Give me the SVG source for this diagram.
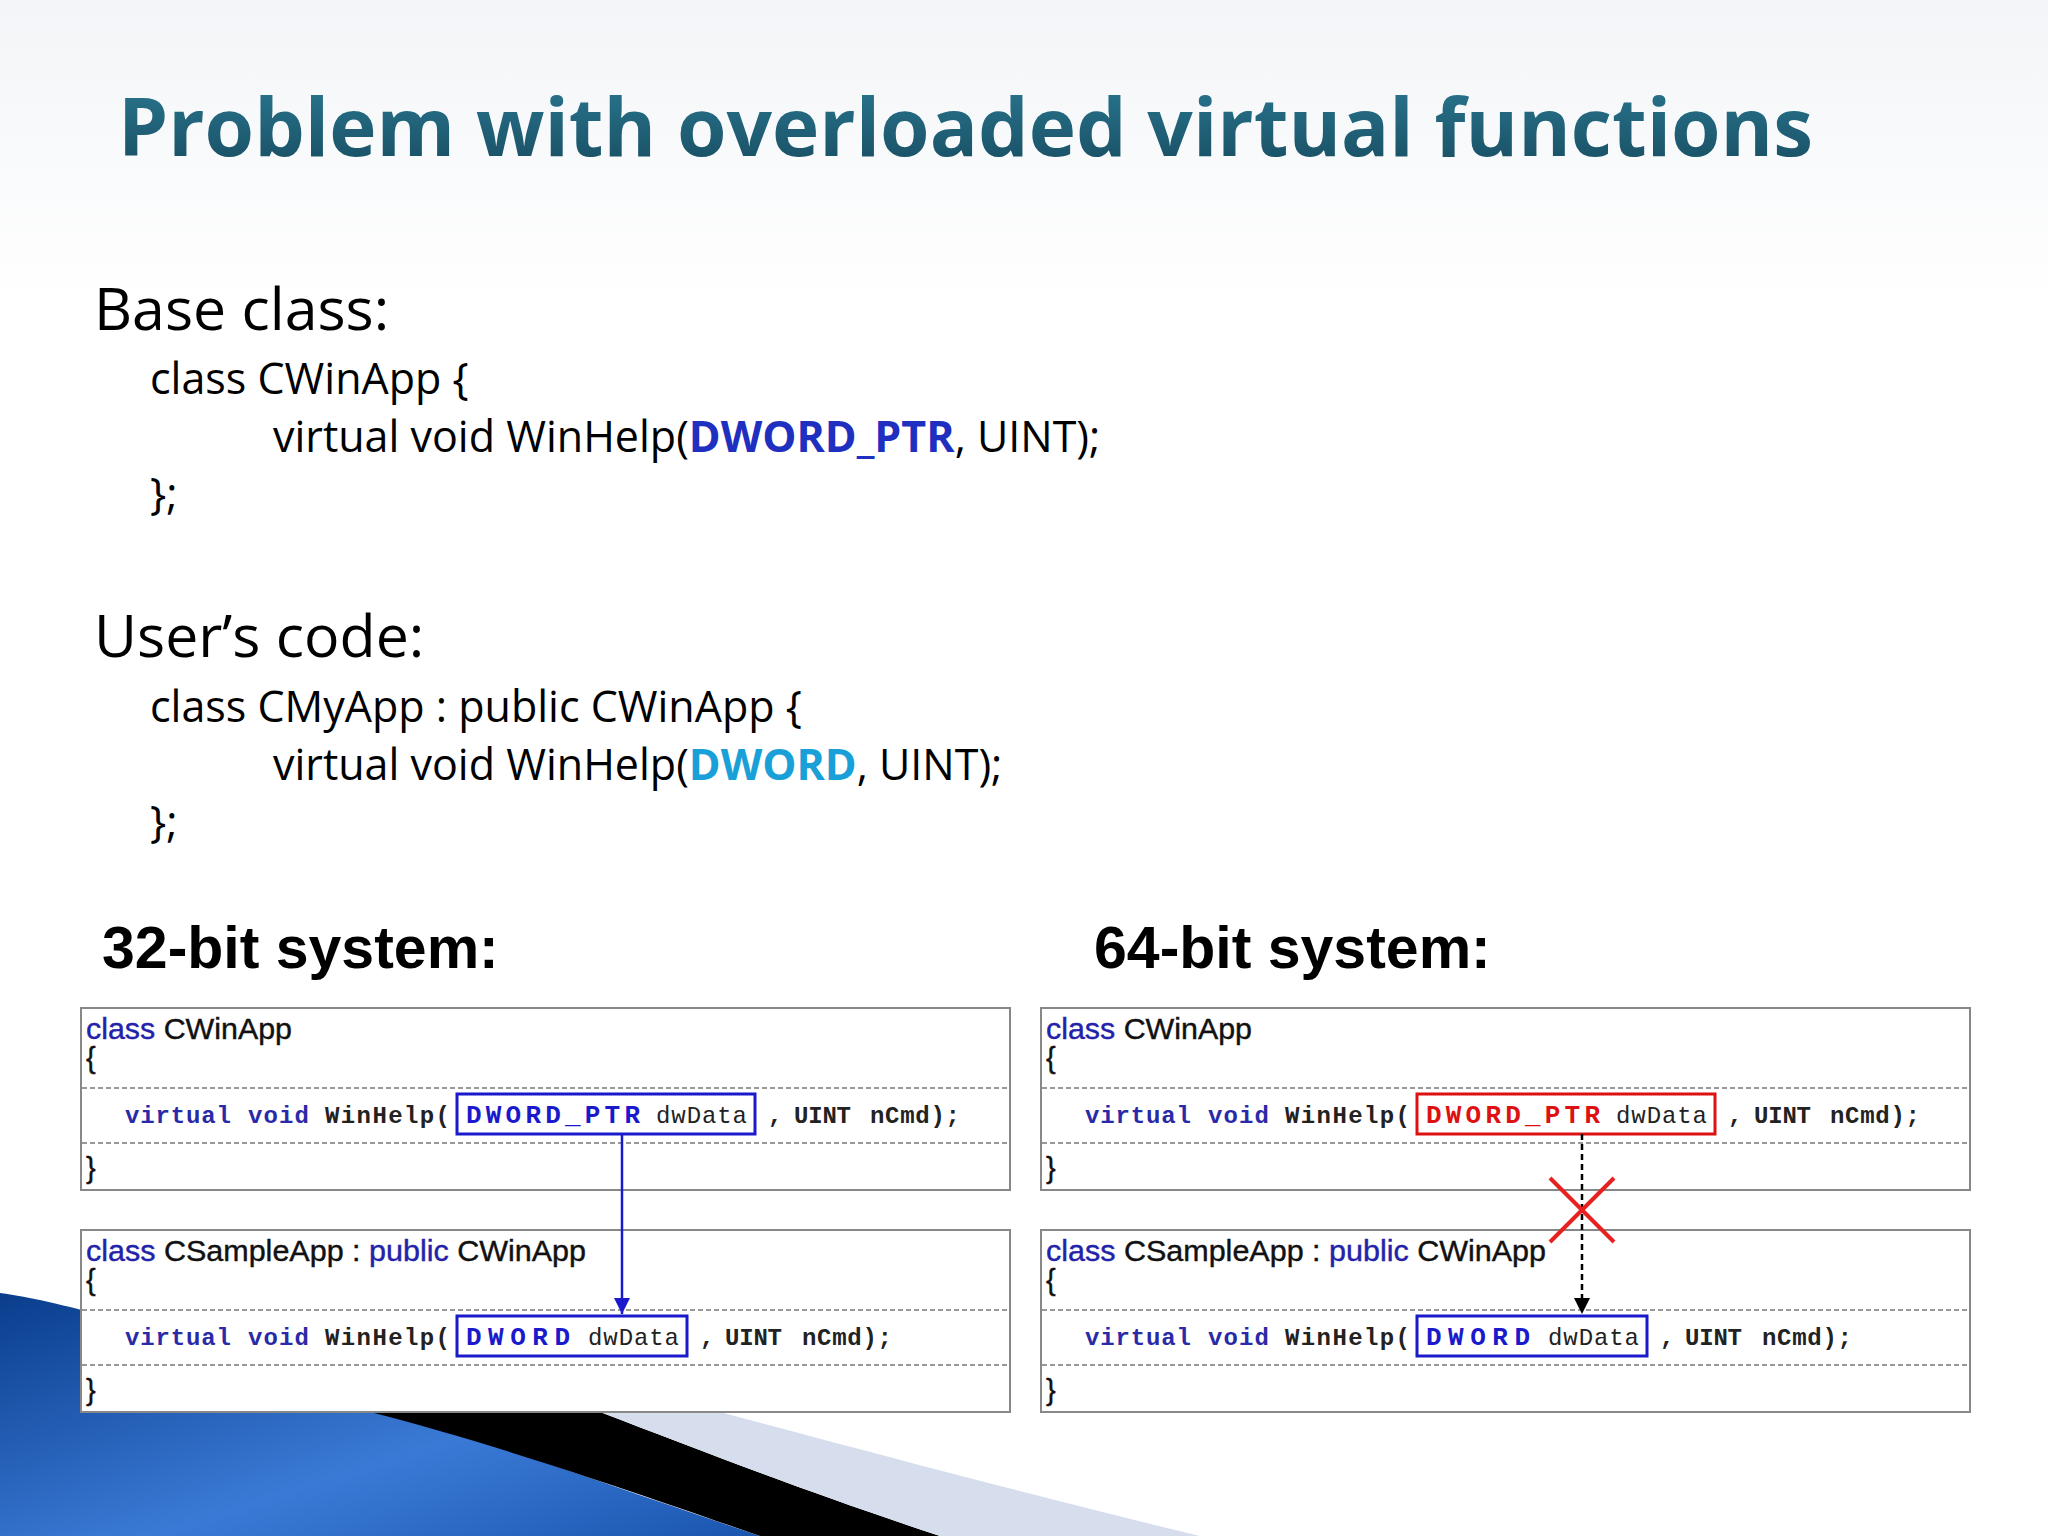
<svg xmlns="http://www.w3.org/2000/svg" width="2048" height="1536" viewBox="0 0 2048 1536">
<defs>
<linearGradient id="bg" x1="0" y1="0" x2="0" y2="1"><stop offset="0" stop-color="#f3f5f8"/><stop offset="0.2" stop-color="#ffffff"/></linearGradient>
<linearGradient id="sw" x1="0" y1="0" x2="1" y2="1"><stop offset="0" stop-color="#0a3d8c"/><stop offset="0.6" stop-color="#3a7ad6"/><stop offset="1" stop-color="#1a56b0"/></linearGradient>
<linearGradient id="tt" x1="0" y1="0" x2="0" y2="1"><stop offset="0" stop-color="#2b7b94"/><stop offset="1" stop-color="#174a5e"/></linearGradient>
<marker id="ab" viewBox="0 0 10 10" refX="10" refY="5" markerWidth="22" markerHeight="16" markerUnits="userSpaceOnUse" orient="auto"><path d="M0,0L10,5L0,10z" fill="#1a1acc"/></marker>
<marker id="ak" viewBox="0 0 10 10" refX="10" refY="5" markerWidth="22" markerHeight="16" markerUnits="userSpaceOnUse" orient="auto"><path d="M0,0L10,5L0,10z" fill="#000"/></marker>
</defs>
<style>
.t{font-family:"Open Sans","Liberation Sans",sans-serif;fill:#000}
.h{font-size:59px}
.c{font-size:43px}
.b{font-family:"Liberation Sans",sans-serif;font-weight:bold;font-size:59px}
.box{fill:#fff;stroke:#888;stroke-width:2}
.dl{stroke:#777;stroke-width:1.5;stroke-dasharray:5 3}
.cl{font-family:"Liberation Sans",sans-serif;font-size:29px;fill:#111;stroke:#111;stroke-width:0.4}
.kw{fill:#2222aa;stroke:#2222aa}
.m{font-family:"Liberation Mono","Courier New",monospace;font-size:24px;font-weight:bold;fill:#222}
.mk{fill:#2a2aa8}
.mn{font-weight:normal}
.hb{fill:none;stroke-width:3}
</style>
<rect width="2048" height="1536" fill="url(#bg)"/>
<g id="swoosh">
<path d="M0,1293 C120,1310 300,1380 760,1536 L0,1536Z" fill="url(#sw)"/>
<path d="M370,1412 L600,1412 C700,1450 800,1490 940,1536 L760,1536 C600,1480 480,1440 370,1412Z" fill="#000"/>
<path d="M600,1412 L720,1412 C900,1460 1050,1500 1200,1536 L940,1536 C800,1490 700,1450 600,1412Z" fill="#d6deee"/>
</g>
<text x="118" y="156" font-family="'Open Sans','Liberation Sans',sans-serif" font-weight="bold" font-size="80" fill="url(#tt)" textLength="1695" lengthAdjust="spacingAndGlyphs">Problem with overloaded virtual functions</text>
<g id="base">
<text class="t h" x="94" y="330">Base class:</text>
<text class="t c" x="150" y="394">class CWinApp {</text>
<text class="t c" x="273" y="452">virtual void WinHelp(<tspan fill="#1f2fc0" font-weight="bold">DWORD_PTR</tspan>, UINT);</text>
<text class="t c" x="150" y="509">};</text>
</g>
<g id="user">
<text class="t h" x="94" y="657">User’s code:</text>
<text class="t c" x="150" y="722">class CMyApp : public CWinApp {</text>
<text class="t c" x="273" y="780">virtual void WinHelp(<tspan fill="#1aa0d8" font-weight="bold">DWORD</tspan>, UINT);</text>
<text class="t c" x="150" y="837">};</text>
</g>
<text class="b" x="102" y="968">32-bit system:</text>
<text class="b" x="1094" y="968">64-bit system:</text>
<g id="l1">
<rect class="box" x="81" y="1008" width="929" height="182"/>
<line class="dl" x1="82" y1="1088" x2="1009" y2="1088"/><line class="dl" x1="82" y1="1143" x2="1009" y2="1143"/>
<text class="cl" x="86" y="1039" textLength="206" lengthAdjust="spacingAndGlyphs"><tspan class="kw">class</tspan> CWinApp</text>
<text class="cl" x="86" y="1068">{</text>
<text class="m" y="1123"><tspan class="mk" x="125" textLength="106">virtual</tspan><tspan class="mk" x="248" textLength="61">void</tspan><tspan x="325" textLength="125">WinHelp(</tspan><tspan x="466" fill="#1a1acc" font-size="26" textLength="174">DWORD_PTR</tspan><tspan class="mn" x="656" textLength="91">dwData</tspan><tspan x="768">,</tspan><tspan x="794" textLength="57">UINT</tspan><tspan x="870" textLength="90">nCmd);</tspan></text>
<rect class="hb" stroke="#1a1acc" x="457" y="1094" width="298" height="40"/>
<text class="cl" x="86" y="1178">}</text>
</g>
<g id="l2">
<rect class="box" x="81" y="1230" width="929" height="182"/>
<line class="dl" x1="82" y1="1310" x2="1009" y2="1310"/><line class="dl" x1="82" y1="1365" x2="1009" y2="1365"/>
<text class="cl" x="86" y="1261" textLength="500" lengthAdjust="spacingAndGlyphs"><tspan class="kw">class</tspan> CSampleApp : <tspan class="kw">public</tspan> CWinApp</text>
<text class="cl" x="86" y="1290">{</text>
<text class="m" y="1345"><tspan class="mk" x="125" textLength="106">virtual</tspan><tspan class="mk" x="248" textLength="61">void</tspan><tspan x="325" textLength="125">WinHelp(</tspan><tspan x="466" fill="#1a1acc" font-size="26" textLength="104">DWORD</tspan><tspan class="mn" x="588" textLength="91">dwData</tspan><tspan x="700">,</tspan><tspan x="725" textLength="57">UINT</tspan><tspan x="802" textLength="90">nCmd);</tspan></text>
<rect class="hb" stroke="#1a1acc" x="457" y="1316" width="230" height="40"/>
<text class="cl" x="86" y="1400">}</text>
</g>
<g id="r1">
<rect class="box" x="1041" y="1008" width="929" height="182"/>
<line class="dl" x1="1042" y1="1088" x2="1969" y2="1088"/><line class="dl" x1="1042" y1="1143" x2="1969" y2="1143"/>
<text class="cl" x="1046" y="1039" textLength="206" lengthAdjust="spacingAndGlyphs"><tspan class="kw">class</tspan> CWinApp</text>
<text class="cl" x="1046" y="1068">{</text>
<text class="m" y="1123"><tspan class="mk" x="1085" textLength="106">virtual</tspan><tspan class="mk" x="1208" textLength="61">void</tspan><tspan x="1285" textLength="125">WinHelp(</tspan><tspan x="1426" fill="#dd1111" font-size="26" textLength="174">DWORD_PTR</tspan><tspan class="mn" x="1616" textLength="91">dwData</tspan><tspan x="1728">,</tspan><tspan x="1754" textLength="57">UINT</tspan><tspan x="1830" textLength="90">nCmd);</tspan></text>
<rect class="hb" stroke="#dd1111" x="1417" y="1094" width="298" height="40"/>
<text class="cl" x="1046" y="1178">}</text>
</g>
<g id="r2">
<rect class="box" x="1041" y="1230" width="929" height="182"/>
<line class="dl" x1="1042" y1="1310" x2="1969" y2="1310"/><line class="dl" x1="1042" y1="1365" x2="1969" y2="1365"/>
<text class="cl" x="1046" y="1261" textLength="500" lengthAdjust="spacingAndGlyphs"><tspan class="kw">class</tspan> CSampleApp : <tspan class="kw">public</tspan> CWinApp</text>
<text class="cl" x="1046" y="1290">{</text>
<text class="m" y="1345"><tspan class="mk" x="1085" textLength="106">virtual</tspan><tspan class="mk" x="1208" textLength="61">void</tspan><tspan x="1285" textLength="125">WinHelp(</tspan><tspan x="1426" fill="#1a1acc" font-size="26" textLength="104">DWORD</tspan><tspan class="mn" x="1548" textLength="91">dwData</tspan><tspan x="1660">,</tspan><tspan x="1685" textLength="57">UINT</tspan><tspan x="1762" textLength="90">nCmd);</tspan></text>
<rect class="hb" stroke="#1a1acc" x="1417" y="1316" width="230" height="40"/>
<text class="cl" x="1046" y="1400">}</text>
</g>
<g id="connectors">
<line x1="622" y1="1134" x2="622" y2="1314" stroke="#1a1acc" stroke-width="2.5" marker-end="url(#ab)"/>
<line x1="1582" y1="1134" x2="1582" y2="1314" stroke="#000" stroke-width="2.5" stroke-dasharray="6 4" marker-end="url(#ak)"/>
<path d="M1550,1178 L1614,1242 M1614,1178 L1550,1242" stroke="#e82020" stroke-width="4" fill="none"/>
</g>
</svg>
